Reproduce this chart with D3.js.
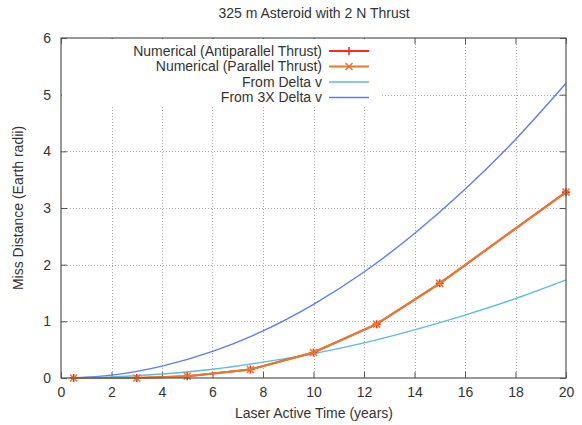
<!DOCTYPE html>
<html>
<head>
<meta charset="utf-8">
<script src="https://cdn.jsdelivr.net/npm/d3@7"></script>
<style>
  body { margin: 0; background: white; }
  text { font-family: "Liberation Sans", Arial, sans-serif; fill: #333; }
</style>
</head>
<body>
<div id="chart"></div>
<script>
// numerical runs (years, Earth radii)
var simTimes = [0.5, 3, 5, 7.5, 10, 12.5, 15, 20];
var antiparallel = [0, 0, 0.03, 0.15, 0.45, 0.95, 1.67, 3.28];
var parallel = [0, 0, 0.03, 0.15, 0.45, 0.95, 1.67, 3.28];

// analytic curves
var curveTimes = [0.5, 2, 4, 6, 8, 10, 12, 14, 16, 18, 20];
var deltaV = [0.001, 0.017, 0.07, 0.155, 0.28, 0.43, 0.62, 0.85, 1.11, 1.40, 1.73];
var deltaV3 = [0.003, 0.05, 0.21, 0.47, 0.83, 1.30, 1.87, 2.55, 3.33, 4.21, 5.20];

var xTicks = d3.range(0, 21, 2);
var yTicks = d3.range(0, 7, 1);

var width = 582, height = 425;
var margin = {top: 38, right: 16, bottom: 47, left: 61};

var svg = d3.select("#chart").append("svg")
  .attr("width", width)
  .attr("height", height);

var x = d3.scaleLinear().domain([0, 20]).range([margin.left, width - margin.right]);
var y = d3.scaleLinear().domain([0, 6]).range([height - margin.bottom, margin.top]);

// grid
var grid = svg.append("g").attr("stroke", "#aaa").attr("stroke-dasharray", "1,2").attr("stroke-width", 1);
grid.selectAll(".gx").data(xTicks.slice(1, -1)).enter().append("line")
  .attr("x1", d => Math.round(x(d)) + 0.5).attr("x2", d => Math.round(x(d)) + 0.5)
  .attr("y1", y(0)).attr("y2", y(6));
grid.selectAll(".gy").data(yTicks.slice(1, -1)).enter().append("line")
  .attr("y1", d => Math.round(y(d)) + 0.5).attr("y2", d => Math.round(y(d)) + 0.5)
  .attr("x1", x(0)).attr("x2", x(20));

// axes with inward ticks
var fmt = d3.format("d");
var axisB = d3.axisBottom(x).tickValues(xTicks).tickSize(-6).tickPadding(9).tickFormat(fmt);
var axisT = d3.axisTop(x).tickValues(xTicks).tickSize(-6).tickFormat("");
var axisL = d3.axisLeft(y).tickValues(yTicks).tickSize(-6).tickPadding(10).tickFormat(fmt);
var axisR = d3.axisRight(y).tickValues(yTicks).tickSize(-6).tickFormat("");

function styleAxis(g) {
  g.select(".domain").remove();
  g.selectAll(".tick line").attr("stroke", "#555");
  g.selectAll(".tick text").attr("font-size", 14).attr("fill", "#333")
    .style("font-family", "'Liberation Sans', Arial, sans-serif");
}
svg.append("g").attr("transform", "translate(0," + y(0) + ")").call(axisB).call(styleAxis);
svg.append("g").attr("transform", "translate(0," + y(6) + ")").call(axisT).call(styleAxis);
svg.append("g").attr("transform", "translate(" + x(0) + ",0)").call(axisL).call(styleAxis);
svg.append("g").attr("transform", "translate(" + x(20) + ",0)").call(axisR).call(styleAxis);

// legend box (opaque, hides grid)
svg.append("rect").attr("x", x(0) + 1).attr("y", y(6) + 1)
  .attr("width", 318).attr("height", 66).attr("fill", "white");

var line = d3.line().x(d => x(d[0])).y(d => y(d[1]));
var smooth = d3.line().x(d => x(d[0])).y(d => y(d[1])).curve(d3.curveMonotoneX);

var series = [
  {name: "From 3X Delta v", t: curveTimes, v: deltaV3, color: "#5b7cff", w: 1.4, gen: smooth},
  {name: "From Delta v", t: curveTimes, v: deltaV, color: "#5bbcd8", w: 1.4, gen: smooth},
  {name: "Numerical (Antiparallel Thrust)", t: simTimes, v: antiparallel, color: "#ff2a1a", w: 2, gen: line, mark: "plus"},
  {name: "Numerical (Parallel Thrust)", t: simTimes, v: parallel, color: "#e57a30", w: 2, gen: line, mark: "cross"}
];

var plot = svg.append("g");
series.forEach(function (s) {
  var pts = s.t.map((t, i) => [t, s.v[i]]);
  plot.append("path").datum(pts)
    .attr("d", s.gen).attr("fill", "none")
    .attr("stroke", s.color).attr("stroke-width", s.w);
  if (s.mark) {
    plot.selectAll(null).data(pts).enter().append("path")
      .attr("transform", d => "translate(" + x(d[0]) + "," + y(d[1]) + ")")
      .attr("d", s.mark == "plus" ? "M-4,0H4M0,-4V4" : "M-3.5,-3.5L3.5,3.5M-3.5,3.5L3.5,-3.5")
      .attr("stroke", s.color).attr("stroke-width", 1.6);
  }
});

// frame
svg.append("rect").attr("x", x(0)).attr("y", y(6))
  .attr("width", x(20) - x(0)).attr("height", y(0) - y(6))
  .attr("fill", "none").attr("stroke", "#555").attr("stroke-width", 1.2);

// legend entries
var legendOrder = [series[2], series[3], series[1], series[0]];
var lg = svg.append("g");
legendOrder.forEach(function (s, i) {
  var ly = 51 + i * 15.5;
  lg.append("text").attr("x", 322).attr("y", ly).attr("dy", "0.35em")
    .attr("text-anchor", "end").attr("font-size", 14).text(s.name);
  lg.append("line").attr("x1", 329).attr("x2", 369).attr("y1", ly).attr("y2", ly)
    .attr("stroke", s.color).attr("stroke-width", s.w);
  if (s.mark) {
    lg.append("path").attr("transform", "translate(349," + ly + ")")
      .attr("d", s.mark == "plus" ? "M-4,0H4M0,-4V4" : "M-3.5,-3.5L3.5,3.5M-3.5,3.5L3.5,-3.5")
      .attr("stroke", s.color).attr("stroke-width", 1.6);
  }
});

// titles
svg.append("text").attr("x", 314).attr("y", 18).attr("text-anchor", "middle")
  .attr("font-size", 14).text("325 m Asteroid with 2 N Thrust");
svg.append("text").attr("x", 314).attr("y", 418).attr("text-anchor", "middle")
  .attr("font-size", 14).text("Laser Active Time (years)");
svg.append("text").attr("transform", "translate(23,208) rotate(-90)")
  .attr("text-anchor", "middle").attr("font-size", 14).text("Miss Distance (Earth radii)");
</script>
</body>
</html>
